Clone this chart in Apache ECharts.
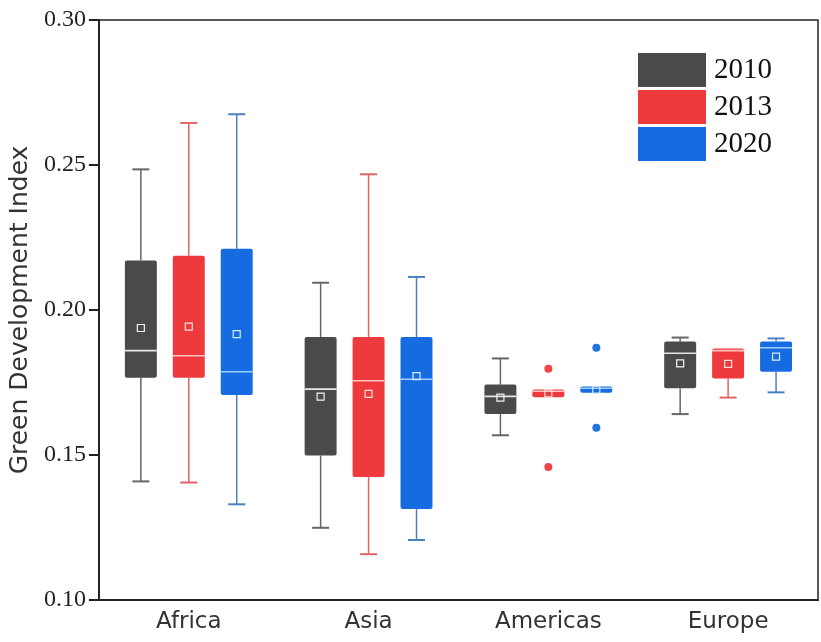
<!DOCTYPE html>
<html>
<head>
<meta charset="utf-8">
<title>Green Development Index by region</title>
<script src="https://cdn.jsdelivr.net/npm/echarts@6/dist/echarts.min.js"></script>
<style>
  html, body { margin: 0; padding: 0; background: #fff; }
  #chart { width: 821px; height: 642px; }
</style>
</head>
<body>
<div id="chart"></div>
<script>
// Regions on the x axis and the three survey years
const categories = ['Africa', 'Asia', 'Americas', 'Europe'];
const years = ['2010', '2013', '2020'];
const yTicks = [0.10, 0.15, 0.20, 0.25, 0.30];

// Per region: [min, Q1, median, Q3, max, mean]
const stats2010 = [
  [0.1409, 0.1766, 0.1860, 0.2171, 0.2485, 0.1938],
  [0.1249, 0.1498, 0.1727, 0.1907, 0.2094, 0.1701],
  [0.1568, 0.1641, 0.1702, 0.1743, 0.1833, 0.1698],
  [0.1641, 0.1730, 0.1851, 0.1891, 0.1905, 0.1816]
];
const stats2013 = [
  [0.1405, 0.1766, 0.1842, 0.2187, 0.2645, 0.1943],
  [0.1158, 0.1424, 0.1756, 0.1907, 0.2468, 0.1711],
  [0.1699, 0.1699, 0.1720, 0.1726, 0.1726, 0.1713],
  [0.1698, 0.1764, 0.1860, 0.1867, 0.1867, 0.1814]
];
const stats2020 = [
  [0.1330, 0.1707, 0.1787, 0.2211, 0.2675, 0.1917],
  [0.1207, 0.1314, 0.1761, 0.1907, 0.2114, 0.1772],
  [0.1715, 0.1715, 0.1730, 0.1736, 0.1736, 0.1725],
  [0.1716, 0.1787, 0.1870, 0.1891, 0.1902, 0.1839]
];

// Outlying points: [region index, value]
const outliers2010 = [];
const outliers2013 = [[2, 0.1797], [2, 0.1459]];
const outliers2020 = [[2, 0.1870], [2, 0.1594]];

const palette = {
  '2010': { box: '#4a4a4a', whisker: '#666666', median: '#e6e6e6', mean: '#f2f2f2' },
  '2013': { box: '#ef3a3d', whisker: '#e06466', median: '#ffc4c4', mean: '#ffe0e0' },
  '2020': { box: '#176be0', whisker: '#4a80bf', median: '#9fd0ff', mean: '#d6ebff' }
};

// Box geometry, as fractions of one category band
const SLOT_STEP = 48 / 180;
const BOX_FRAC = 32 / 180;
const CAP_FRAC = 17 / 180;
const MEAN_SIZE = 7;

function boxRenderer(slot, colors) {
  return function (params, api) {
    const cat = api.value(0);
    const band = api.size([1, 0])[0];
    const dx = slot * band * SLOT_STEP;
    const pt = function (v) {
      const p = api.coord([cat, v]);
      return [p[0] + dx, p[1]];
    };
    const lo = pt(api.value(1));
    const q1 = pt(api.value(2));
    const md = pt(api.value(3));
    const q3 = pt(api.value(4));
    const hi = pt(api.value(5));
    const mn = pt(api.value(6));
    const cx = lo[0];
    const bw = band * BOX_FRAC;
    const cw = band * CAP_FRAC;
    const wStyle = { stroke: colors.whisker, lineWidth: 1.5 };
    const children = [];
    if (hi[1] < q3[1] - 0.5) {
      children.push({ type: 'line', shape: { x1: cx, y1: q3[1], x2: cx, y2: hi[1] }, style: wStyle });
      children.push({ type: 'line', shape: { x1: cx - cw / 2, y1: hi[1], x2: cx + cw / 2, y2: hi[1] }, style: { stroke: colors.whisker, lineWidth: 2 } });
    }
    if (lo[1] > q1[1] + 0.5) {
      children.push({ type: 'line', shape: { x1: cx, y1: q1[1], x2: cx, y2: lo[1] }, style: wStyle });
      children.push({ type: 'line', shape: { x1: cx - cw / 2, y1: lo[1], x2: cx + cw / 2, y2: lo[1] }, style: { stroke: colors.whisker, lineWidth: 2 } });
    }
    children.push({
      type: 'rect',
      shape: { x: cx - bw / 2, y: q3[1], width: bw, height: Math.max(q1[1] - q3[1], 2), r: 2 },
      style: { fill: colors.box }
    });
    children.push({
      type: 'line',
      shape: { x1: cx - bw / 2, y1: md[1], x2: cx + bw / 2, y2: md[1] },
      style: { stroke: colors.median, lineWidth: 1.6 }
    });
    children.push({
      type: 'rect',
      shape: { x: cx - MEAN_SIZE / 2, y: mn[1] - MEAN_SIZE / 2, width: MEAN_SIZE, height: MEAN_SIZE },
      style: { fill: 'none', stroke: colors.mean, lineWidth: 1.2 }
    });
    return { type: 'group', children: children };
  };
}

function boxSeries(name, stats, slot) {
  const colors = palette[name];
  return {
    name: name,
    type: 'custom',
    renderItem: boxRenderer(slot, colors),
    itemStyle: { color: colors.box },
    encode: { x: 0, y: [1, 2, 3, 4, 5, 6] },
    data: stats.map(function (s, i) { return [i].concat(s); }),
    silent: true
  };
}

function outlierSeries(name, points, slot) {
  return {
    name: name + ' outliers',
    type: 'scatter',
    symbol: 'circle',
    symbolSize: 8,
    symbolOffset: [slot * 48, 0],
    itemStyle: { color: palette[name].box, opacity: 0.95 },
    data: points,
    silent: true
  };
}

const chart = echarts.init(document.getElementById('chart'), null, { renderer: 'canvas' });

chart.setOption({
  animation: false,
  backgroundColor: '#ffffff',
  grid: {
    left: 98, right: 3, top: 20, bottom: 42,
    show: true, borderColor: '#222', borderWidth: 1.5, backgroundColor: 'transparent'
  },
  legend: {
    data: years,
    orient: 'vertical',
    left: 638,
    top: 53,
    padding: 0,
    icon: 'rect',
    itemWidth: 68,
    itemHeight: 34,
    itemGap: 3,
    selectedMode: false,
    textStyle: { fontFamily: '"Liberation Serif", "Times New Roman", serif', fontSize: 29, color: '#111', padding: [0, 0, 0, 3] }
  },
  xAxis: {
    type: 'category',
    data: categories,
    boundaryGap: true,
    axisLine: { lineStyle: { color: '#222', width: 2 } },
    axisTick: { inside: true, alignWithLabel: true, length: 11, lineStyle: { color: '#222', width: 2 } },
    axisLabel: { fontFamily: '"DejaVu Sans", sans-serif', fontSize: 23, color: '#333', margin: 11 },
    splitLine: { show: false }
  },
  yAxis: {
    type: 'value',
    min: 0.10,
    max: 0.30,
    interval: 0.05,
    name: 'Green Development Index',
    nameLocation: 'middle',
    nameGap: 63,
    nameTextStyle: { fontFamily: '"DejaVu Sans", sans-serif', fontSize: 25, color: '#333' },
    axisLine: { show: true, lineStyle: { color: '#222', width: 2 } },
    axisTick: { show: true, length: 10, lineStyle: { color: '#222', width: 2 } },
    axisLabel: {
      fontFamily: '"Liberation Serif", "Times New Roman", serif', fontSize: 24, color: '#222', margin: 13,
      formatter: function (v) {
        const hit = yTicks.find(function (t) { return Math.abs(t - v) < 1e-9; });
        return hit === undefined ? '' : hit.toFixed(2);
      }
    },
    splitLine: { show: false }
  },
  series: [
    boxSeries('2010', stats2010, -1),
    boxSeries('2013', stats2013, 0),
    boxSeries('2020', stats2020, 1),
    outlierSeries('2010', outliers2010, -1),
    outlierSeries('2013', outliers2013, 0),
    outlierSeries('2020', outliers2020, 1)
  ]
});
</script>
</body>
</html>
